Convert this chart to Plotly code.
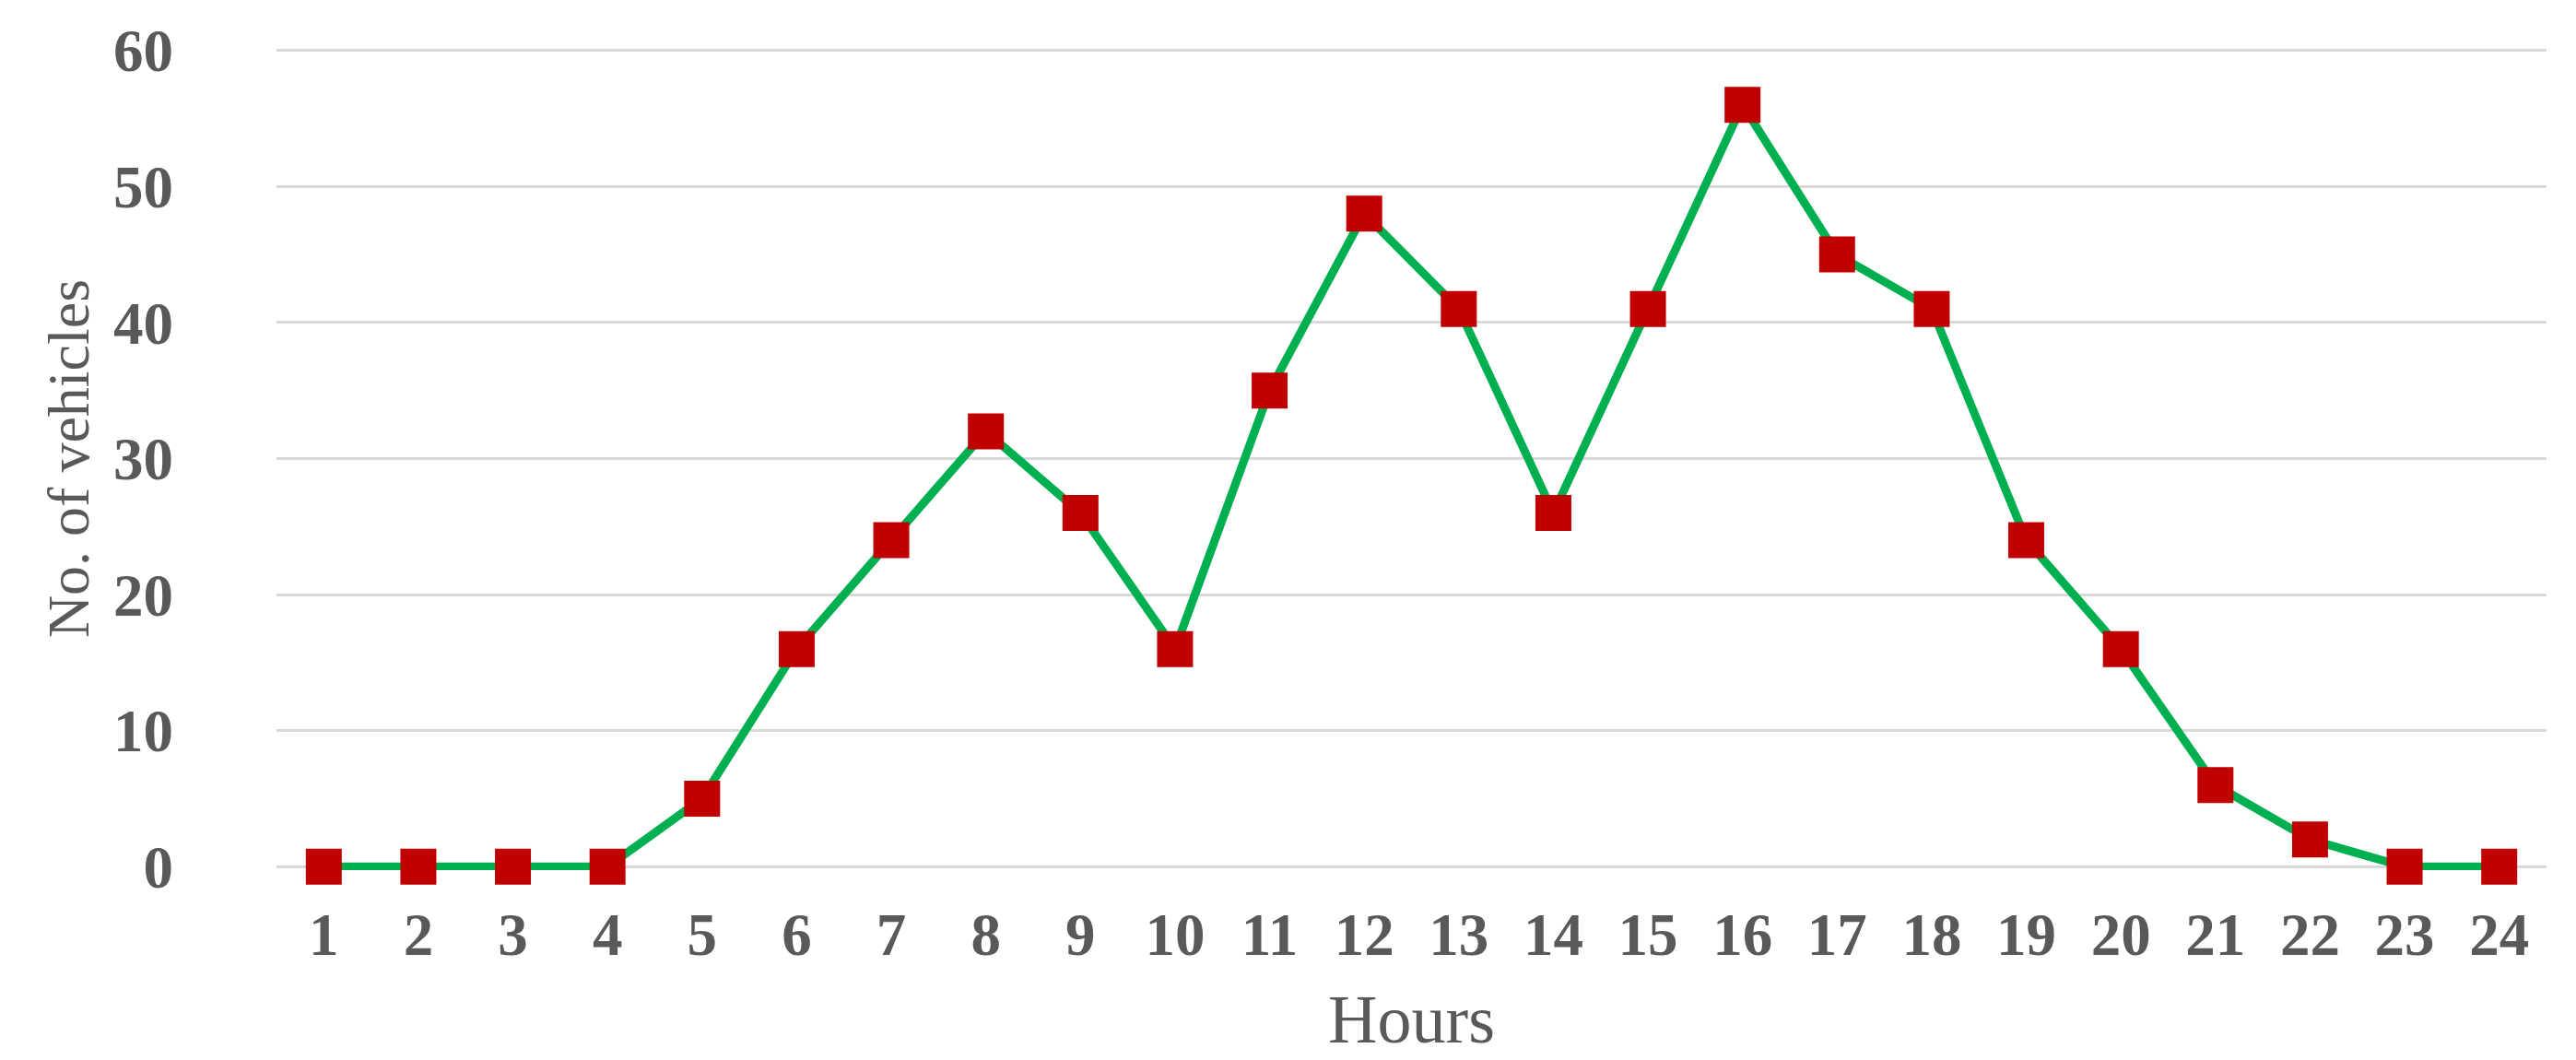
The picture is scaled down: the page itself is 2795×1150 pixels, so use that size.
import plotly.graph_objects as go

hours = [str(h) for h in range(1, 25)]
vehicles = [0, 0, 0, 0, 5, 16, 24, 32, 26, 16, 35, 48, 41, 26, 41, 56, 45, 41, 24, 16, 6, 2, 0, 0]
y_ticks = [0, 10, 20, 30, 40, 50, 60]

fig = go.Figure()
fig.add_trace(go.Scatter(
    x=hours, y=vehicles, mode="lines+markers",
    line=dict(color="#00B050", width=9),
    marker=dict(symbol="square", size=39, color="#C00000"),
    cliponaxis=False,
    showlegend=False,
))

font_family = "Liberation Serif, Times New Roman, serif"
fig.update_layout(
    width=2795, height=1150,
    margin=dict(l=300, r=32, t=51, b=206, autoexpand=False),
    paper_bgcolor="white", plot_bgcolor="white",
    font=dict(family=font_family, color="#595959"),
)
fig.update_xaxes(
    type="category", range=[-0.5, 23.5],
    tickfont=dict(size=65, weight="bold", color="#595959", family=font_family),
    ticks="outside", ticklen=13, tickcolor="rgba(0,0,0,0)",
    showgrid=False, showline=False, zeroline=False,
    title=dict(text="Hours", font=dict(size=74, color="#595959", family=font_family), standoff=30),
    automargin=False,
)
fig.update_yaxes(
    range=[-0.25, 60.25], tickvals=y_ticks,
    tickfont=dict(size=65, weight="bold", color="#595959", family=font_family),
    ticks="outside", ticklen=98, tickcolor="rgba(0,0,0,0)",
    showgrid=True, gridcolor="#D9D9D9", gridwidth=3,
    showline=False, zeroline=False,
    title=dict(text="No. of vehicles", font=dict(size=64, color="#595959", family=font_family), standoff=5),
    automargin=False,
)

fig.write_html("out.html", config={"displayModeBar": False},
               post_script="document.body.style.margin='0';")
